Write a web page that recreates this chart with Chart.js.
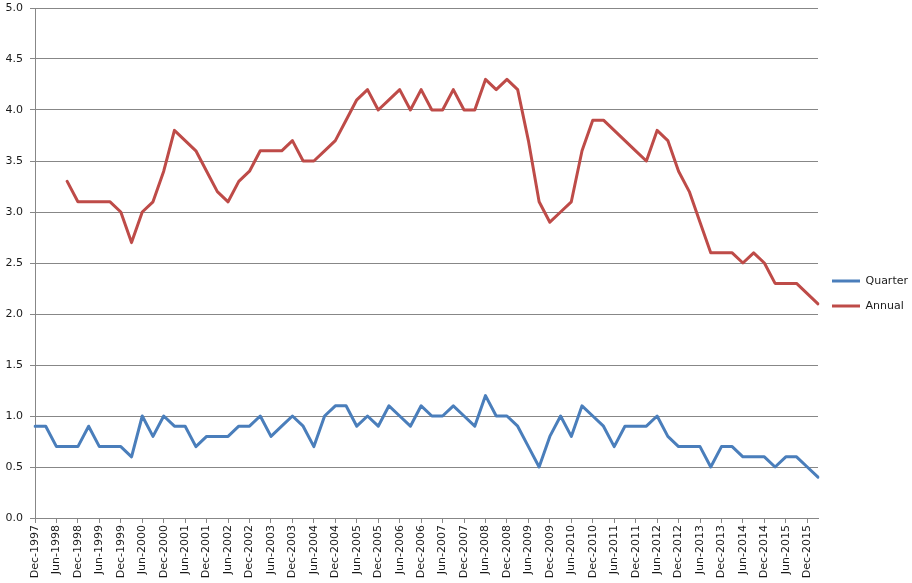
<!DOCTYPE html>
<html>
<head>
<meta charset="utf-8">
<script src="https://cdn.jsdelivr.net/npm/chart.js@4.4.1/dist/chart.umd.min.js"></script>
<style>
  html, body { margin: 0; padding: 0; background: #fff; }
  #wrap { width: 912px; height: 583px; position: relative; }
</style>
</head>
<body>
<div id="wrap"><canvas id="rateChart"></canvas></div>
<script>
// quarterly categories, Dec-1997 .. Mar-2016
const quarters = [
  'Dec-1997', 'Mar-1998', 'Jun-1998', 'Sep-1998', 'Dec-1998', 'Mar-1999', 'Jun-1999', 'Sep-1999',
  'Dec-1999', 'Mar-2000', 'Jun-2000', 'Sep-2000', 'Dec-2000', 'Mar-2001', 'Jun-2001', 'Sep-2001',
  'Dec-2001', 'Mar-2002', 'Jun-2002', 'Sep-2002', 'Dec-2002', 'Mar-2003', 'Jun-2003', 'Sep-2003',
  'Dec-2003', 'Mar-2004', 'Jun-2004', 'Sep-2004', 'Dec-2004', 'Mar-2005', 'Jun-2005', 'Sep-2005',
  'Dec-2005', 'Mar-2006', 'Jun-2006', 'Sep-2006', 'Dec-2006', 'Mar-2007', 'Jun-2007', 'Sep-2007',
  'Dec-2007', 'Mar-2008', 'Jun-2008', 'Sep-2008', 'Dec-2008', 'Mar-2009', 'Jun-2009', 'Sep-2009',
  'Dec-2009', 'Mar-2010', 'Jun-2010', 'Sep-2010', 'Dec-2010', 'Mar-2011', 'Jun-2011', 'Sep-2011',
  'Dec-2011', 'Mar-2012', 'Jun-2012', 'Sep-2012', 'Dec-2012', 'Mar-2013', 'Jun-2013', 'Sep-2013',
  'Dec-2013', 'Mar-2014', 'Jun-2014', 'Sep-2014', 'Dec-2014', 'Mar-2015', 'Jun-2015', 'Sep-2015',
  'Dec-2015', 'Mar-2016'
];

const quarterValues = [
  0.9, 0.9, 0.7, 0.7, 0.7, 0.9, 0.7, 0.7,
  0.7, 0.6, 1.0, 0.8, 1.0, 0.9, 0.9, 0.7,
  0.8, 0.8, 0.8, 0.9, 0.9, 1.0, 0.8, 0.9,
  1.0, 0.9, 0.7, 1.0, 1.1, 1.1, 0.9, 1.0,
  0.9, 1.1, 1.0, 0.9, 1.1, 1.0, 1.0, 1.1,
  1.0, 0.9, 1.2, 1.0, 1.0, 0.9, 0.7, 0.5,
  0.8, 1.0, 0.8, 1.1, 1.0, 0.9, 0.7, 0.9,
  0.9, 0.9, 1.0, 0.8, 0.7, 0.7, 0.7, 0.5,
  0.7, 0.7, 0.6, 0.6, 0.6, 0.5, 0.6, 0.6,
  0.5, 0.4
];

// annual figure only starts once four quarters are available
const annualValues = [
  null, null, null, 3.3, 3.1, 3.1, 3.1, 3.1,
  3.0, 2.7, 3.0, 3.1, 3.4, 3.8, 3.7, 3.6,
  3.4, 3.2, 3.1, 3.3, 3.4, 3.6, 3.6, 3.6,
  3.7, 3.5, 3.5, 3.6, 3.7, 3.9, 4.1, 4.2,
  4.0, 4.1, 4.2, 4.0, 4.2, 4.0, 4.0, 4.2,
  4.0, 4.0, 4.3, 4.2, 4.3, 4.2, 3.7, 3.1,
  2.9, 3.0, 3.1, 3.6, 3.9, 3.9, 3.8, 3.7,
  3.6, 3.5, 3.8, 3.7, 3.4, 3.2, 2.9, 2.6,
  2.6, 2.6, 2.5, 2.6, 2.5, 2.3, 2.3, 2.3,
  2.2, 2.1
];

const yTicks = [0, 0.5, 1, 1.5, 2, 2.5, 3, 3.5, 4, 4.5, 5];

const axisGrey = '#878787';
const textColor = '#1a1a1a';

Chart.defaults.font.family = '"DejaVu Sans", Verdana, sans-serif';
Chart.defaults.font.size = 11;
Chart.defaults.color = textColor;

const ctx = document.getElementById('rateChart').getContext('2d');
new Chart(ctx, {
  type: 'line',
  data: {
    labels: quarters,
    datasets: [
      {
        label: 'Quarter',
        data: quarterValues,
        borderColor: '#4A7EBB',
        backgroundColor: '#4A7EBB',
        borderWidth: 3,
        pointRadius: 0,
        tension: 0,
        borderJoinStyle: 'round',
        borderCapStyle: 'round'
      },
      {
        label: 'Annual',
        data: annualValues,
        borderColor: '#BE4B48',
        backgroundColor: '#BE4B48',
        borderWidth: 3,
        pointRadius: 0,
        tension: 0,
        borderJoinStyle: 'round',
        borderCapStyle: 'round'
      }
    ]
  },
  options: {
    responsive: true,
    maintainAspectRatio: false,
    animation: false,
    layout: { padding: { left: 6, top: 8, right: 0, bottom: 4 } },
    plugins: {
      tooltip: { enabled: false },
      legend: {
        position: 'right',
        align: 'center',
        maxWidth: 94,
        labels: {
          usePointStyle: true,
          pointStyle: 'line',
          pointStyleWidth: 28,
          padding: 14,
          color: textColor,
          font: { size: 11 }
        }
      }
    },
    scales: {
      x: {
        type: 'category',
        offset: false,
        afterFit: (axis) => { axis.height = 61; },
        grid: {
          drawOnChartArea: false,
          tickLength: 5,
          // tick marks only under the labelled (Dec / Jun) quarters
          tickColor: (c) => (c.index % 2 === 0 ? axisGrey : 'rgba(0,0,0,0)')
        },
        border: { color: axisGrey, width: 1 },
        ticks: {
          autoSkip: false,
          maxRotation: 90,
          minRotation: 90,
          padding: 2,
          callback: function (value, index) {
            return index % 2 === 0 ? this.getLabelForValue(value) : '';
          }
        }
      },
      y: {
        min: 0,
        max: 5,
        afterBuildTicks: (axis) => { axis.ticks = yTicks.map((v) => ({ value: v })); },
        afterFit: (axis) => { axis.width = 29; axis.paddingTop = 0; },
        grid: { color: axisGrey, tickLength: 5 },
        border: { color: axisGrey, width: 1 },
        ticks: {
          padding: 7,
          callback: (v) => Number(v).toFixed(1)
        }
      }
    }
  }
});
</script>
</body>
</html>
